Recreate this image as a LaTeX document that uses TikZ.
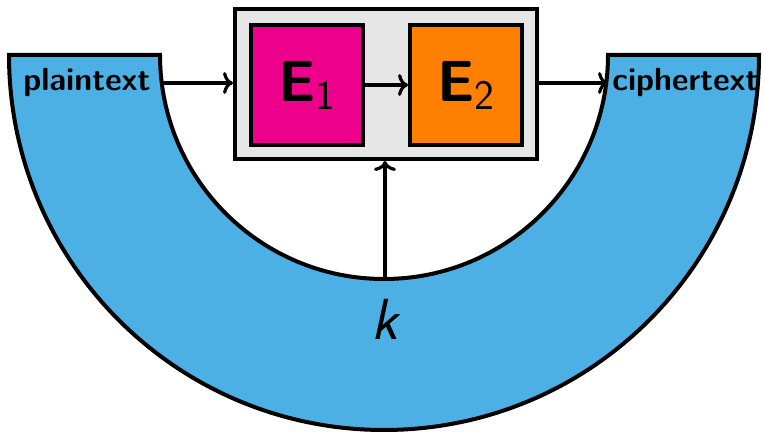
\documentclass[tikz,border=0pt]{standalone}
\usepackage{fontspec}
\usetikzlibrary{arrows.meta}
\definecolor{ringblue}{RGB}{77,176,228}
\definecolor{emag}{RGB}{236,0,140}
\definecolor{eorange}{RGB}{255,128,0}
\definecolor{boxgray}{RGB}{230,230,230}
\tikzset{
  edge/.style={line width=2pt},
  conn/.style={line width=1.6pt,-{To[length=5pt,width=11pt,line width=1.6pt]}},
  ebox/.style={draw,line width=2pt,minimum width=56pt,minimum height=60pt,inner sep=0pt},
  lbl/.style={font=\sffamily\bfseries\fontsize{16}{16}\selectfont,inner ysep=0pt},
}
\newcommand{\Esub}[1]{{\sffamily\fontsize{29}{29}\selectfont\bfseries E}{\sffamily\fontsize{21}{21}\selectfont\raisebox{-4pt}{#1}}}
\begin{document}
\begin{tikzpicture}[x=0.5pt,y=0.5pt]
\useasboundingbox (0,0) rectangle (765,433);
% half annulus
\draw[edge,fill=ringblue] (9,378) -- (160,378) arc[start angle=180,end angle=360,radius=112pt]
  -- (759,378) arc[start angle=0,end angle=-180,radius=187.5pt] -- cycle;
\node[draw,line width=2pt,fill=boxgray,minimum width=151pt,minimum height=75pt,inner sep=0pt] (box) at (386,349) {};
\node[ebox,fill=emag] (e1) at (307,348) {\Esub{1}};
\node[ebox,fill=eorange] (e2) at (466,348) {\Esub{2}};
\node[lbl,inner xsep=4.5pt,anchor=east] (plain) at (160,350) {plaintext};
\node[lbl,inner xsep=2pt,anchor=west] (cipher) at (608,350) {ciphertext};
\coordinate (kin) at (385,154);
\node[font=\sffamily\itshape\fontsize{29}{29}\selectfont] (k) at (385,114) {k};
\draw[conn] (plain.east) -- (plain.east -| box.west);
\draw[conn] (e1.east) -- (e2.west);
\draw[conn] (cipher.west -| box.east) -- (cipher.west);
\draw[conn] (kin) -- (kin |- box.south);
\end{tikzpicture}
\end{document}
